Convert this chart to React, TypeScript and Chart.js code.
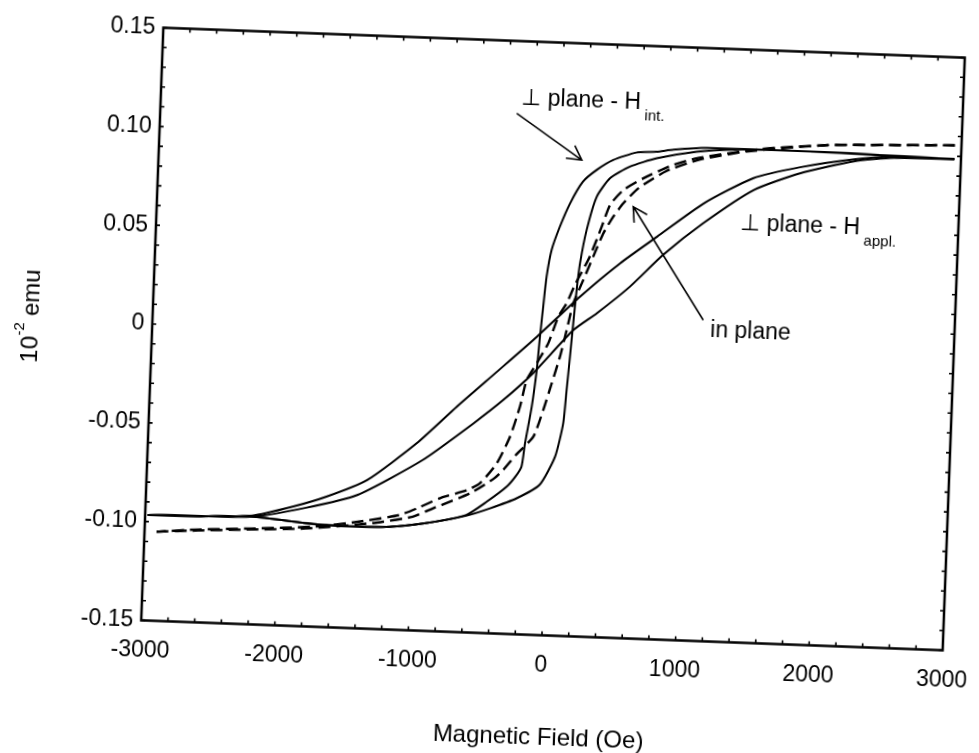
import React, { useEffect, useRef } from 'react';
import { Chart, registerables } from 'chart.js';

Chart.register(...registerables);

// Axis tick labels
const xTickLabels = ['-3000', '-2000', '-1000', '0', '1000', '2000', '3000'];
const yTickLabels = ['-0.15', '-0.10', '-0.05', '0', '0.05', '0.10', '0.15'];

// ⊥ plane – H_int. loop (solid, square)
const intDescField = [2950, 2500, 2100, 1600, 1100, 850, 720, 570, 400, 280, 180, 90, 20, -35, -65, -82, -98, -113, -140, -180, -200, -240, -305, -450, -600, -900, -1170, -1450, -1740, -2200, -2600, -2980];
const intDescMoment = [0.0985, 0.099, 0.0995, 0.0997, 0.0995, 0.098, 0.0966, 0.0958, 0.0916, 0.0863, 0.0801, 0.0689, 0.0569, 0.045, 0.0315, 0.0163, 0.0009, -0.016, -0.0346, -0.0533, -0.0651, -0.07, -0.0755, -0.0835, -0.0906, -0.0955, -0.098, -0.0985, -0.098, -0.0955, -0.0962, -0.0966];
const intAscField = [-2980, -2600, -2200, -1740, -1450, -1170, -900, -600, -424, -227, -60, 48, 100, 116, 132, 147, 163, 181, 221, 287, 381, 527, 725, 1022, 1300, 1600, 2100, 2500, 2950];
const intAscMoment = [-0.0966, -0.0962, -0.0955, -0.098, -0.0985, -0.098, -0.0955, -0.091, -0.0868, -0.0812, -0.074, -0.0595, -0.0424, -0.0255, -0.0086, 0.0083, 0.0252, 0.0388, 0.0557, 0.0727, 0.0823, 0.0886, 0.0933, 0.0974, 0.0992, 0.0997, 0.0995, 0.099, 0.0985];

// ⊥ plane – H_appl. loop (solid, sheared)
const applDescField = [2950, 2500, 2200, 1800, 1450, 1090, 750, 480, 190, -120, -400, -700, -990, -1350, -1650, -1900, -2200, -2600, -2980];
const applDescMoment = [0.0985, 0.0985, 0.0965, 0.0915, 0.085, 0.0714, 0.0537, 0.0395, 0.0219, 0.0009, -0.017, -0.036, -0.0553, -0.0748, -0.084, -0.0897, -0.095, -0.0962, -0.0966];
const applAscField = [-2980, -2600, -2200, -1800, -1420, -940, -570, -355, -140, 150, 320, 560, 800, 1090, 1460, 1800, 2200, 2500, 2950];
const applAscMoment = [-0.0966, -0.0962, -0.0955, -0.09, -0.0826, -0.0636, -0.0441, -0.0318, -0.0177, 0.0049, 0.0138, 0.0279, 0.0446, 0.0613, 0.0791, 0.0884, 0.0955, 0.098, 0.0985];

// in plane loop (dashed)
const inDescField = [2950, 2500, 2000, 1500, 1020, 830, 630, 484, 389, 333, 250, 150, 92, 33, -34, -110, -185, -228, -294, -386, -506, -600, -800, -970, -1100, -1400, -1740, -2200, -2600, -2910];
const inDescMoment = [0.1055, 0.1045, 0.1032, 0.1, 0.094, 0.0897, 0.0829, 0.0766, 0.0688, 0.0577, 0.042, 0.028, 0.0183, 0.0113, -0.0022, -0.012, -0.0212, -0.0348, -0.0502, -0.064, -0.0743, -0.078, -0.0826, -0.0882, -0.0919, -0.096, -0.0994, -0.1015, -0.103, -0.1049];
const inAscField = [-2910, -2600, -2200, -1800, -1300, -1000, -848, -577, -400, -335, -241, -120, -53, 3, 57, 100, 142, 210, 278, 347, 417, 488, 600, 800, 1050, 1400, 2000, 2500, 2950];
const inAscMoment = [-0.1049, -0.1035, -0.102, -0.1005, -0.0965, -0.0925, -0.0878, -0.0796, -0.0715, -0.0671, -0.059, -0.0498, -0.0361, -0.0224, -0.0088, 0.0048, 0.0184, 0.0304, 0.0424, 0.0544, 0.063, 0.0699, 0.078, 0.087, 0.0935, 0.0985, 0.1032, 0.1045, 0.1055];

// Annotations (text, subscript, anchor in data units)
const labelTexts = ['⊥ plane - H', 'in plane', '⊥ plane - H'];
const labelSubs = ['int.', '', 'appl.'];
const labelFields = [-304, 1173, 1368];
const labelMoments = [0.1177, 0.0042, 0.0586];
// Arrows (from -> to, data units)
const arrowFromField = [-334, 1118];
const arrowFromMoment = [0.1134, 0.0124];
const arrowToField = [165, 563];
const arrowToMoment = [0.091, 0.0684];

const FONT = '"Liberation Sans", Arial, "DejaVu Sans", sans-serif';

const pts = (xs: number[], ys: number[]) => xs.map((x, i) => ({ x, y: ys[i] }));

const framePlugin = {
  id: 'frameAndNotes',
  afterDatasetsDraw(chart: any) {
    const { ctx, chartArea: a, scales } = chart;
    const xs = scales.x;
    const ys = scales.y;
    ctx.save();
    ctx.strokeStyle = '#000';
    ctx.fillStyle = '#000';
    ctx.lineWidth = 2.5;
    ctx.strokeRect(a.left, a.top, a.right - a.left, a.bottom - a.top);
    // inward minor ticks
    ctx.lineWidth = 1.6;
    ctx.beginPath();
    for (let v = -3000; v <= 3000; v += 200) {
      const p = xs.getPixelForValue(v);
      ctx.moveTo(p, a.bottom); ctx.lineTo(p, a.bottom - 4);
      ctx.moveTo(p, a.top); ctx.lineTo(p, a.top + 4);
    }
    for (let k = -15; k <= 15; k++) {
      const p = ys.getPixelForValue(k / 100);
      ctx.moveTo(a.left, p); ctx.lineTo(a.left + 4, p);
      ctx.moveTo(a.right, p); ctx.lineTo(a.right - 4, p);
    }
    ctx.stroke();

    // y-axis title with superscript
    ctx.save();
    ctx.translate(a.left - 122.5, (a.top + a.bottom) / 2 - 3.5);
    ctx.rotate(-Math.PI / 2);
    ctx.textBaseline = 'alphabetic';
    ctx.textAlign = 'left';
    ctx.font = `24px ${FONT}`;
    const w1 = ctx.measureText('10').width;
    const w3 = ctx.measureText(' emu').width;
    ctx.font = `15px ${FONT}`;
    const w2 = ctx.measureText('-2').width;
    let sx = -(w1 + w2 + w3) / 2;
    ctx.font = `24px ${FONT}`;
    ctx.fillText('10', sx, 8.5);
    sx += w1;
    ctx.font = `15px ${FONT}`;
    ctx.fillText('-2', sx, -6);
    sx += w2;
    ctx.font = `24px ${FONT}`;
    ctx.fillText(' emu', sx, 8.5);
    ctx.restore();

    // annotation labels
    ctx.textBaseline = 'alphabetic';
    ctx.textAlign = 'left';
    for (let i = 0; i < labelTexts.length; i++) {
      const px = xs.getPixelForValue(labelFields[i]);
      const py = ys.getPixelForValue(labelMoments[i]);
      ctx.font = `23px ${FONT}`;
      ctx.fillText(labelTexts[i], px, py);
      if (labelSubs[i]) {
        const w = ctx.measureText(labelTexts[i]).width;
        ctx.font = `15px ${FONT}`;
        ctx.fillText(labelSubs[i], px + w + 4, py + 11);
      }
    }

    // arrows
    ctx.lineWidth = 1.6;
    for (let i = 0; i < arrowFromField.length; i++) {
      const x0 = xs.getPixelForValue(arrowFromField[i]);
      const y0 = ys.getPixelForValue(arrowFromMoment[i]);
      const x1 = xs.getPixelForValue(arrowToField[i]);
      const y1 = ys.getPixelForValue(arrowToMoment[i]);
      const ang = Math.atan2(y1 - y0, x1 - x0);
      const L = 16;
      ctx.beginPath();
      ctx.moveTo(x0, y0);
      ctx.lineTo(x1, y1);
      ctx.moveTo(x1 + L * Math.cos(ang + Math.PI - 0.5), y1 + L * Math.sin(ang + Math.PI - 0.5));
      ctx.lineTo(x1, y1);
      ctx.lineTo(x1 + L * Math.cos(ang + Math.PI + 0.5), y1 + L * Math.sin(ang + Math.PI + 0.5));
      ctx.stroke();
    }
    ctx.restore();
  },
};

export default function App() {
  const canvasRef = useRef<HTMLCanvasElement | null>(null);

  useEffect(() => {
    if (!canvasRef.current) return;
    const solid = (xs: number[], ys: number[]) => ({
      data: pts(xs, ys),
      showLine: true,
      borderColor: '#000',
      borderWidth: 2,
      pointRadius: 0,
      tension: 0.2,
      fill: false,
    });
    const dashed = (xs: number[], ys: number[]) => ({
      ...solid(xs, ys),
      borderWidth: 2.4,
      borderDash: [12, 6],
    });

    const chart = new Chart(canvasRef.current, {
      type: 'scatter',
      data: {
        datasets: [
          solid(intDescField, intDescMoment),
          solid(intAscField, intAscMoment),
          solid(applDescField, applDescMoment),
          solid(applAscField, applAscMoment),
          dashed(inDescField, inDescMoment),
          dashed(inAscField, inAscMoment),
        ] as any,
      },
      options: {
        animation: false,
        responsive: false,
        maintainAspectRatio: false,
        devicePixelRatio: 1,
        layout: { padding: { left: 0, right: 25, top: 42.5, bottom: 0 } },
        plugins: { legend: { display: false }, tooltip: { enabled: false } },
        scales: {
          x: {
            type: 'linear',
            min: -3000,
            max: 3000,
            grid: { display: false, drawTicks: false },
            border: { display: false },
            ticks: {
              stepSize: 1000,
              padding: 16,
              color: '#000',
              font: { family: FONT, size: 23 },
              maxRotation: 0,
              autoSkip: false,
              callback: (v: any) => xTickLabels[Math.round((Number(v) + 3000) / 1000)],
            },
            title: {
              display: true,
              text: 'Magnetic Field (Oe)',
              color: '#000',
              font: { family: FONT, size: 24 },
              padding: { top: 0, bottom: 0.6 },
            },
            afterFit: (s: any) => {
              s.height = 117.5;
              s.paddingLeft = 0;
              s.paddingRight = 0;
            },
          },
          y: {
            type: 'linear',
            min: -0.15,
            max: 0.15,
            grid: { display: false, drawTicks: false },
            border: { display: false },
            ticks: {
              stepSize: 0.05,
              padding: 8,
              color: '#000',
              font: { family: FONT, size: 23 },
              autoSkip: false,
              callback: (v: any) => yTickLabels[Math.round((Number(v) + 0.15) / 0.05)],
            },
            afterFit: (s: any) => {
              s.width = 152;
              s.paddingTop = 0;
              s.paddingBottom = 0;
            },
          },
        },
      } as any,
      plugins: [framePlugin],
    });
    return () => chart.destroy();
  }, []);

  return (
    <div
      style={{
        position: 'fixed',
        left: 0,
        top: 0,
        width: 979,
        height: 753,
        overflow: 'hidden',
        background: '#fff',
      }}
    >
      <canvas
        ref={canvasRef}
        width={979}
        height={753}
        style={{
          width: 979,
          height: 753,
          display: 'block',
          transform: 'rotate(2.14deg)',
          transformOrigin: '553px 339px',
        }}
      />
    </div>
  );
}
